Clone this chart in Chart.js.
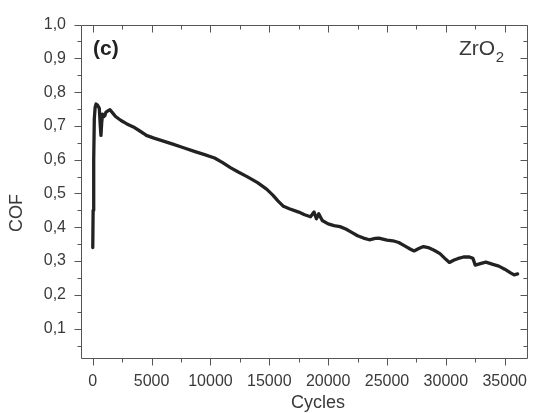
<!DOCTYPE html>
<html>
<head>
<meta charset="utf-8">
<script src="https://cdn.jsdelivr.net/npm/chart.js@4.4.1/dist/chart.umd.min.js"></script>
<style>
html,body{margin:0;padding:0;background:#fff;}
#wrap{width:541px;height:413px;}
</style>
</head>
<body>
<div id="wrap"><canvas id="c" width="541" height="413"></canvas></div>
<script>
// Data
const cycles = [0,30,80,130,200,280,400,555,640,695,760,830,950,1025,1110,1300,1465,1700,1935,2400,2900,3450,4000,4400,4550,5200,5935,6800,7590,8690,9500,10350,11000,11730,12400,13110,14000,14770,15300,15730,16200,16700,17500,18000,18500,18800,19000,19200,19500,20000,20500,21000,21500,22000,22500,23000,23500,24000,24300,25000,25500,26000,26500,27000,27300,27700,28100,28500,29000,29500,30000,30300,30700,31000,31500,32000,32300,32500,33000,33400,34000,34500,35000,35500,35800,36100];
const cof = [0.34,0.45,0.60,0.72,0.755,0.765,0.762,0.752,0.70,0.672,0.71,0.735,0.728,0.73,0.74,0.745,0.748,0.738,0.728,0.716,0.706,0.697,0.685,0.676,0.672,0.664,0.656,0.646,0.637,0.624,0.615,0.605,0.592,0.576,0.563,0.55,0.532,0.513,0.495,0.478,0.462,0.455,0.445,0.437,0.431,0.445,0.425,0.44,0.42,0.41,0.405,0.402,0.395,0.385,0.375,0.368,0.363,0.367,0.368,0.362,0.36,0.355,0.345,0.335,0.33,0.337,0.343,0.34,0.332,0.322,0.305,0.296,0.303,0.307,0.312,0.312,0.308,0.288,0.293,0.297,0.29,0.285,0.276,0.265,0.259,0.262];
const xTickValues = [0,2500,5000,7500,10000,12500,15000,17500,20000,22500,25000,27500,30000,32500,35000];
const yTickValues = [0.05,0.1,0.15,0.2,0.25,0.3,0.35,0.4,0.45,0.5,0.55,0.6,0.65,0.7,0.75,0.8,0.85,0.9,0.95,1.0];
const xTitle = 'Cycles';
const yTitle = 'COF';
const panelLabel = '(c)';
const materialLabel = 'ZrO';
const materialSub = '2';

const FONT = '"Liberation Sans", Arial, Helvetica, sans-serif';
const AXIS = '#555';
const TXT = '#3a3a3a';

const points = cycles.map((x,i)=>({x:x,y:cof[i]}));

const isMajorY = v => Math.abs(v*10 - Math.round(v*10)) < 1e-6;
const isMajorX = v => v % 5000 === 0;

const framePlugin = {
  id:'frame',
  afterDraw(chart){
    const ctx = chart.ctx, a = chart.chartArea;
    const xs = chart.scales.x, ys = chart.scales.y;
    ctx.save();
    ctx.strokeStyle = AXIS; ctx.lineWidth = 1;
    const L = Math.round(a.left)+0.5, R = Math.round(a.right)-0.5, T = Math.round(a.top)+0.5, B = Math.round(a.bottom)+0.5;
    ctx.beginPath();
    ctx.rect(L, T, R-L, B-T);
    ctx.stroke();
    ctx.beginPath();
    xTickValues.forEach(v=>{
      const px = Math.round(xs.getPixelForValue(v))+0.5;
      const len = isMajorX(v)?7:4;
      ctx.moveTo(px,B); ctx.lineTo(px,B+len);
      ctx.moveTo(px,T); ctx.lineTo(px,T+len);
    });
    yTickValues.forEach(v=>{
      const py = Math.round(ys.getPixelForValue(v))+0.5;
      const len = isMajorY(v)?7:4;
      ctx.moveTo(L,py); ctx.lineTo(L-len,py);
      ctx.moveTo(R,py); ctx.lineTo(R-len,py);
    });
    ctx.stroke();
    // titles
    ctx.fillStyle = TXT;
    ctx.font = '18px '+FONT;
    ctx.textAlign='center'; ctx.textBaseline='middle';
    ctx.fillText(xTitle, 318, 403);
    ctx.save();
    ctx.translate(17,213); ctx.rotate(-Math.PI/2);
    ctx.fillText(yTitle,0,0);
    ctx.restore();
    ctx.fillStyle = '#222';
    ctx.font = 'bold 21px '+FONT;
    ctx.textAlign='left'; ctx.textBaseline='alphabetic';
    ctx.fillText(panelLabel, 93, 55);
    ctx.fillStyle = TXT;
    ctx.font = '21px '+FONT;
    ctx.fillText(materialLabel, 459, 55);
    const w = ctx.measureText(materialLabel).width;
    ctx.font = '15px '+FONT;
    ctx.fillText(materialSub, 459+w+0.5, 62);
    ctx.restore();
  }
};

new Chart(document.getElementById('c'), {
  type:'line',
  data:{datasets:[{data:points, borderColor:'#222', borderWidth:3.3, pointRadius:0, tension:0, fill:false, borderJoinStyle:'round', borderCapStyle:'round'}]},
  options:{
    responsive:false, animation:false, events:[],
    layout:{padding:{left:0,right:1,top:17,bottom:0}},
    plugins:{legend:{display:false}, tooltip:{enabled:false}},
    scales:{
      x:{type:'linear', min:-1000, max:37000,
        border:{display:false}, grid:{display:false, drawTicks:false},
        afterBuildTicks:s=>{s.ticks = xTickValues.map(v=>({value:v}));},
        afterFit:s=>{s.height = 55;},
        ticks:{autoSkip:false, maxRotation:0, padding:14, color:TXT, font:{family:FONT,size:16},
          callback:v=> isMajorX(v)? String(v):''}
      },
      y:{type:'linear', min:0.013, max:1.0,
        border:{display:false}, grid:{display:false, drawTicks:false},
        afterBuildTicks:s=>{s.ticks = yTickValues.map(v=>({value:v}));},
        afterFit:s=>{s.width = 81;},
        ticks:{autoSkip:false, padding:15, color:TXT, font:{family:FONT,size:16},
          callback:v=> isMajorY(v)? v.toFixed(1).replace('.',','):''}
      }
    }
  },
  plugins:[framePlugin]
});
</script>
</body>
</html>
